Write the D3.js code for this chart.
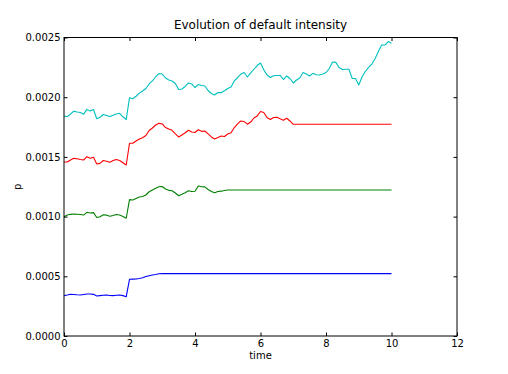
<!DOCTYPE html>
<html>
<head>
<meta charset="utf-8">
<script src="https://cdn.jsdelivr.net/npm/d3@7/dist/d3.min.js"></script>
<style>
  html, body { margin: 0; padding: 0; background: #fff; }
  svg { display: block; }
  text { font-family: "DejaVu Sans", sans-serif; fill: #000; }
</style>
</head>
<body>
<svg id="chart" width="508" height="374"></svg>
<script>
// ---- data (values in units of 1e-4) ----
const time = [0,0.1,0.2,0.3,0.4,0.5,0.6,0.7,0.8,0.9,1,1.1,1.2,1.3,1.4,1.5,1.6,1.7,1.8,1.9,
  2,2.1,2.2,2.3,2.4,2.5,2.6,2.7,2.8,2.9,3,3.1,3.2,3.3,3.4,3.5,3.6,3.7,3.8,3.9,
  4,4.1,4.2,4.3,4.4,4.5,4.6,4.7,4.8,4.9,5,5.1,5.2,5.3,5.4,5.5,5.6,5.7,5.8,5.9,
  6,6.1,6.2,6.3,6.4,6.5,6.6,6.7,6.8,6.9,7,7.1,7.2,7.3,7.4,7.5,7.6,7.7,7.8,7.9,
  8,8.1,8.2,8.3,8.4,8.5,8.6,8.7,8.8,8.9,9,9.1,9.2,9.3,9.4,9.5,9.6,9.7,9.8,9.9,10];

const blueSeries = [3.38,3.43,3.49,3.48,3.45,3.43,3.48,3.52,3.52,3.49,
  3.35,3.38,3.41,3.43,3.39,3.38,3.41,3.43,3.38,3.29,
  4.75,4.76,4.77,4.82,4.88,4.98,5.05,5.11,5.15,5.21,
  5.22,5.22,5.22,5.22,5.22,5.22,5.22,5.22,5.22,5.22,
  5.22,5.22,5.22,5.22,5.22,5.22,5.22,5.22,5.22,5.22,
  5.22,5.22,5.22,5.22,5.22,5.22,5.22,5.22,5.22,5.22,
  5.22,5.22,5.22,5.22,5.22,5.22,5.22,5.22,5.22,5.22,
  5.22,5.22,5.22,5.22,5.22,5.22,5.22,5.22,5.22,5.22,
  5.22,5.22,5.22,5.22,5.22,5.22,5.22,5.22,5.22,5.22,
  5.22,5.22,5.22,5.22,5.22,5.22,5.22,5.22,5.22,5.22,5.22];

const greenSeries = [9.99,10.13,10.19,10.22,10.20,10.18,10.13,10.36,10.30,10.33,
  9.92,9.99,10.15,10.12,10.03,10.09,10.18,10.13,10.01,9.86,
  11.42,11.39,11.52,11.64,11.68,11.81,12.08,12.23,12.37,12.50,
  12.52,12.31,12.20,12.17,11.98,11.75,11.87,12.00,12.17,12.10,
  12.12,12.56,12.50,12.49,12.27,12.10,11.99,12.10,12.13,12.19,
  12.23,12.23,12.23,12.23,12.23,12.23,12.23,12.23,12.23,12.23,
  12.23,12.23,12.23,12.23,12.23,12.23,12.23,12.23,12.23,12.23,
  12.23,12.23,12.23,12.23,12.23,12.23,12.23,12.23,12.23,12.23,
  12.23,12.23,12.23,12.23,12.23,12.23,12.23,12.23,12.23,12.23,
  12.23,12.23,12.23,12.23,12.23,12.23,12.23,12.23,12.23,12.23,12.23];

const redSeries = [14.57,14.57,14.74,14.88,14.84,14.78,14.74,15.02,14.88,14.97,
  14.41,14.46,14.70,14.64,14.56,14.69,14.78,14.70,14.51,14.32,
  16.14,16.14,16.33,16.50,16.60,16.79,17.21,17.42,17.67,17.81,
  17.76,17.46,17.34,17.23,16.93,16.67,16.83,17.02,17.23,17.09,
  17.04,17.27,17.14,17.17,16.93,16.67,16.50,16.62,16.75,16.71,
  16.92,17.02,17.46,17.76,18.01,17.96,17.74,17.92,18.26,18.43,
  18.80,18.72,18.30,18.13,18.30,18.32,18.19,18.07,18.24,18.01,
  17.73,17.73,17.73,17.73,17.73,17.73,17.73,17.73,17.73,17.73,
  17.73,17.73,17.73,17.73,17.73,17.73,17.73,17.73,17.73,17.73,
  17.73,17.73,17.73,17.73,17.73,17.73,17.73,17.73,17.73,17.73,17.73];

const cyanSeries = [18.43,18.37,18.59,18.83,18.76,18.72,18.58,18.98,18.84,18.97,
  18.20,18.32,18.55,18.47,18.38,18.49,18.59,18.65,18.36,18.13,
  19.96,19.87,20.08,20.34,20.52,20.73,21.11,21.36,21.73,21.98,
  21.94,21.61,21.44,21.36,21.15,20.65,20.69,20.90,21.19,21.11,
  20.81,21.06,20.98,20.94,20.56,20.31,20.18,20.39,20.38,20.54,
  20.73,20.85,21.36,21.63,21.94,22.07,21.69,22.03,22.34,22.65,
  22.86,22.29,21.86,21.65,21.79,21.82,21.82,21.48,21.78,21.57,
  21.19,21.44,21.61,22.07,21.94,21.78,22.00,21.88,21.86,21.94,
  22.07,22.40,22.95,22.92,22.49,22.32,22.34,22.34,21.58,21.57,
  21.02,21.69,22.15,22.49,22.78,23.24,23.83,24.37,24.37,24.66,24.51];

const seriesNames = ["blue", "green", "red", "cyan"];
const seriesColors = ["#0000ff", "#008000", "#ff0000", "#00bfbf"];
const seriesValues = [blueSeries, greenSeries, redSeries, cyanSeries];

const xTicks = [0, 2, 4, 6, 8, 10, 12];
const yTicks = [0, 0.0005, 0.0010, 0.0015, 0.0020, 0.0025];

const titleText = "Evolution of default intensity";
const xLabel = "time";
const yLabel = "p";

// ---- layout ----
const margin = { left: 64, top: 37.5, right: 51, bottom: 38 };
const W = 508, H = 374;
const iw = W - margin.left - margin.right;
const ih = H - margin.top - margin.bottom;

const svg = d3.select("#chart");
const g = svg.append("g").attr("transform", `translate(${margin.left},${margin.top})`);

const x = d3.scaleLinear().domain([0, 12]).range([0, iw]);
const y = d3.scaleLinear().domain([0, 0.0025]).range([ih, 0]);

// lines
const line = d3.line().x(d => x(d[0])).y(d => y(d[1]));
seriesValues.forEach((vals, i) => {
  const pts = vals.map((v, k) => [time[k], v * 1e-4]);
  g.append("path")
    .datum(pts)
    .attr("fill", "none")
    .attr("stroke", seriesColors[i])
    .attr("stroke-width", 1.1)
    .attr("stroke-linejoin", "round")
    .attr("d", line);
});

const tickLen = 3.5;
const fontSize = 10;

function styleAxis(sel, showLabels) {
  sel.select(".domain").remove();
  sel.selectAll(".tick line").attr("stroke", "#000").attr("stroke-width", 1);
  sel.selectAll(".tick text")
    .style("font-size", fontSize + "px")
    .style("font-family", '"DejaVu Sans", sans-serif')
    .attr("fill", "#000");
  if (!showLabels) sel.selectAll(".tick text").remove();
}

g.append("g").attr("transform", `translate(0,${ih})`)
  .call(d3.axisBottom(x).tickValues(xTicks).tickFormat(d3.format("d"))
    .tickSizeInner(-tickLen).tickSizeOuter(0).tickPadding(3.5))
  .call(s => styleAxis(s, true));
g.append("g")
  .call(d3.axisTop(x).tickValues(xTicks).tickSizeInner(-tickLen).tickSizeOuter(0))
  .call(s => styleAxis(s, false));
g.append("g")
  .call(d3.axisLeft(y).tickValues(yTicks).tickFormat(d3.format(".4f"))
    .tickSizeInner(-tickLen).tickSizeOuter(0).tickPadding(3.5))
  .call(s => styleAxis(s, true));
g.append("g").attr("transform", `translate(${iw},0)`)
  .call(d3.axisRight(y).tickValues(yTicks).tickSizeInner(-tickLen).tickSizeOuter(0))
  .call(s => styleAxis(s, false));

// frame
g.append("rect")
  .attr("x", 0).attr("y", 0).attr("width", iw).attr("height", ih)
  .attr("fill", "none").attr("stroke", "#000").attr("stroke-width", 1);

// title and labels
svg.append("text")
  .attr("x", margin.left + iw / 2).attr("y", 29)
  .attr("text-anchor", "middle")
  .style("font-size", "12px")
  .text(titleText);

svg.append("text")
  .attr("x", margin.left + iw / 2).attr("y", 359)
  .attr("text-anchor", "middle")
  .style("font-size", "10px")
  .text(xLabel);

svg.append("text")
  .attr("transform", `translate(21,${margin.top + ih / 2}) rotate(-90)`)
  .attr("text-anchor", "middle")
  .style("font-size", "10px")
  .text(yLabel);
</script>
</body>
</html>
